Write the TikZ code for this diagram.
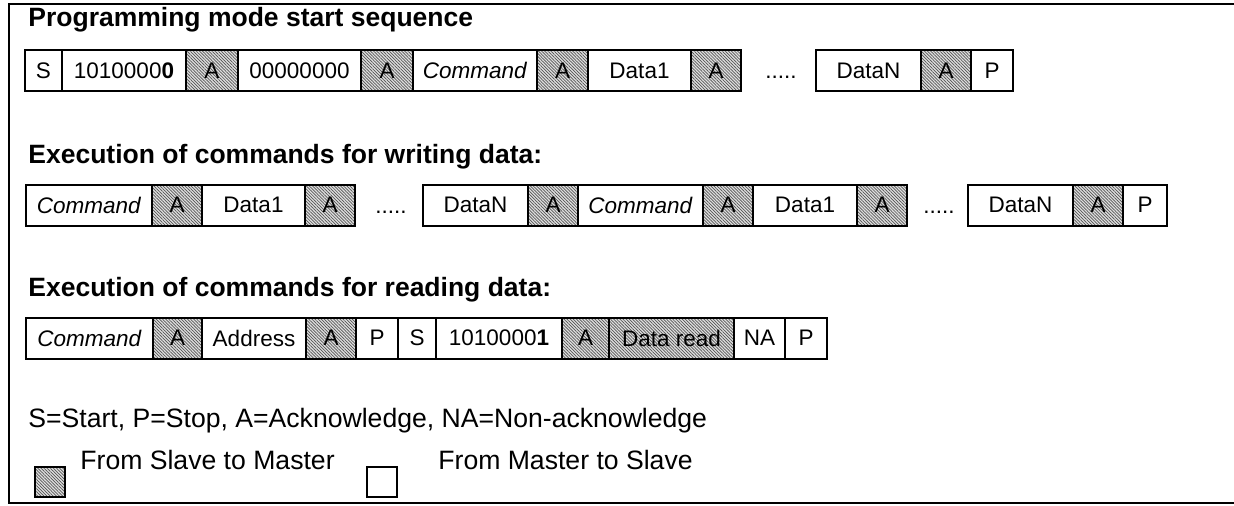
\documentclass[tikz,border=0pt]{standalone}
\usepackage{fontspec}
\setmainfont{Liberation Sans}
\usetikzlibrary{positioning,patterns.meta}

\begin{document}
\begin{tikzpicture}[x=0.5pt,y=-0.5pt,every node/.style={font=\fontsize{11.25}{13}\selectfont}]
\tikzset{
  fld/.style={draw,line width=1pt,minimum height=20.5pt,minimum width=#1,inner sep=0pt,outer sep=0pt},
  ack/.style={fld=#1,preaction={fill=gray!25},pattern={Lines[angle=-45,distance=1.1pt,line width=0.35pt]},pattern color=gray!65!black},
  head/.style={anchor=west,inner sep=0pt,font=\fontsize{13.25}{15}\selectfont\bfseries},
  legend/.style={anchor=west,inner sep=0pt,font=\fontsize{13.3}{15}\selectfont},
  dots/.style={inner sep=0pt,text height=8.1pt,text depth=0pt}
}
\useasboundingbox (0,0) rectangle (1234,505);
% frame, open on the right
\draw [line width=1.1pt] (1234,4) -- (9,4) -- (9,503) -- (1234,503);

% programming mode start sequence
\node [head] (h1) at (28,20) {Programming mode start sequence};
\node [fld=18.5pt,anchor=west] (s1) at (25,70.5) {S};
\node [fld=62pt,right=0pt of s1] (addr1) {1010000\textbf{0}};
\node [ack=26pt,right=0pt of addr1] (a11) {A};
\node [fld=61.5pt,right=0pt of a11] (zero1) {00000000};
\node [ack=26pt,right=0pt of zero1] (a12) {A};
\node [fld=62pt,right=0pt of a12] (cmd1) {\textit{Command}};
\node [ack=25.5pt,right=0pt of cmd1] (a13) {A};
\node [fld=51.5pt,right=0pt of a13] (d11) {Data1};
\node [ack=25pt,right=0pt of d11] (a14) {A};
\node [dots] (dot1) at (781,70.5) {.....};
\node [fld=52.5pt,anchor=west] (dn1) at (816,70.5) {DataN};
\node [ack=25pt,right=0pt of dn1] (a15) {A};
\node [fld=21pt,right=0pt of a15] (p1) {P};

% writing data
\node [head] (h2) at (28,157) {Execution of commands for writing data:};
\node [fld=63pt,anchor=west] (cmd2) at (26,205) {\textit{Command}};
\node [ack=25pt,right=0pt of cmd2] (a21) {A};
\node [fld=51.5pt,right=0pt of a21] (d21) {Data1};
\node [ack=25pt,right=0pt of d21] (a22) {A};
\node [dots] (dot2) at (391,205) {.....};
\node [fld=52.5pt,anchor=west] (dn2) at (423,205) {DataN};
\node [ack=25pt,right=0pt of dn2] (a23) {A};
\node [fld=62.5pt,right=0pt of a23] (cmd3) {\textit{Command}};
\node [ack=25pt,right=0pt of cmd3] (a24) {A};
\node [fld=52pt,right=0pt of a24] (d22) {Data1};
\node [ack=25pt,right=0pt of d22] (a25) {A};
\node [dots] (dot3) at (939,205) {.....};
\node [fld=52.5pt,anchor=west] (dn3) at (968,205) {DataN};
\node [ack=25pt,right=0pt of dn3] (a26) {A};
\node [fld=22pt,right=0pt of a26] (p2) {P};

% reading data
\node [head] (h3) at (28,290) {Execution of commands for reading data:};
\node [fld=63.5pt,anchor=west] (cmd4) at (26,338) {\textit{Command}};
\node [ack=24.5pt,right=0pt of cmd4] (a31) {A};
\node [fld=52pt,right=0pt of a31] (adr3) {Address};
\node [ack=25pt,right=0pt of adr3] (a32) {A};
\node [fld=21pt,right=0pt of a32] (p3) {P};
\node [fld=19pt,right=0pt of p3] (s3) {S};
\node [fld=63pt,right=0pt of s3] (addr3) {1010000\textbf{1}};
\node [ack=23.5pt,right=0pt of addr3] (a33) {A};
\node [ack=62.5pt,right=0pt of a33] (rd3) {Data read};
\node [fld=25.5pt,right=0pt of rd3] (na3) {NA};
\node [fld=21pt,right=0pt of na3] (p4) {P};

% legend
\node [legend] (abbr) at (28,421) {S=Start, P=Stop, A=Acknowledge, NA=Non-acknowledge};
\node [ack=15pt,minimum height=15pt,anchor=north west] (keyS) at (35,467) {};
\node [legend] (txtS) at (80,460) {From Slave to Master};
\node [fld=15pt,minimum height=15pt,anchor=north west] (keyM) at (367,467) {};
\node [legend] (txtM) at (438,460) {From Master to Slave};
\end{tikzpicture}
\end{document}
